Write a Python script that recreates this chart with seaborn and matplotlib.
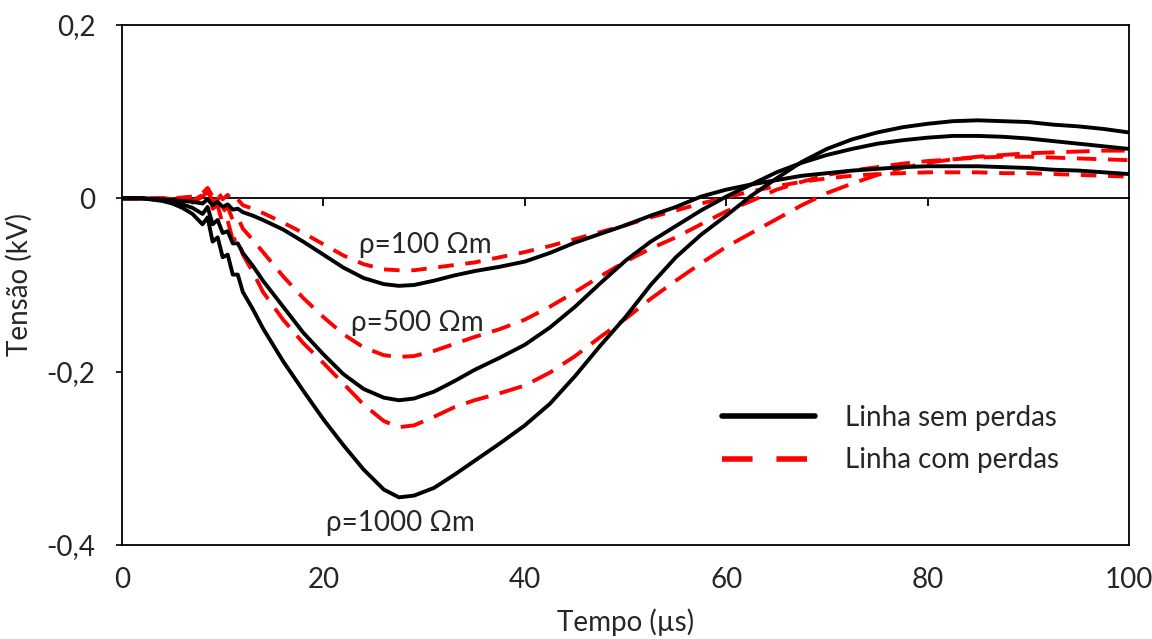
import pandas as pd
import matplotlib.pyplot as plt
import seaborn as sns
from matplotlib.lines import Line2D

# tempo (us) comum a todas as curvas
tempo = [0, 2, 4, 5, 6, 7, 8, 8.5, 9, 9.5, 10, 10.5, 11, 11.5, 12, 13, 14, 16, 18, 20,
         22, 24, 26, 27.5, 29, 31, 33, 35, 37.5, 40, 42.5, 45, 47.5, 50, 52.5, 55, 57.5,
         60, 62.5, 65, 67.5, 70, 72.5, 75, 77.5, 80, 82.5, 85, 87.5, 90, 92.5, 95, 97.5, 100]

# Linha sem perdas (kV)
sem_100 = [0, 0, -0.001, -0.002, -0.003, -0.004, -0.006, -0.001, -0.008, -0.004, -0.010, -0.007,
           -0.013, -0.012, -0.016, -0.020, -0.025, -0.036, -0.050, -0.065, -0.080, -0.092, -0.099,
           -0.101, -0.100, -0.095, -0.089, -0.084, -0.079, -0.073, -0.063, -0.051, -0.041, -0.031,
           -0.020, -0.010, 0.002, 0.010, 0.016, 0.021, 0.026, 0.029, 0.032, 0.034, 0.036, 0.037,
           0.037, 0.037, 0.036, 0.035, 0.033, 0.032, 0.030, 0.028]
sem_500 = [0, 0, -0.002, -0.004, -0.007, -0.011, -0.018, -0.010, -0.030, -0.025, -0.040, -0.038,
           -0.052, -0.052, -0.063, -0.078, -0.095, -0.125, -0.155, -0.180, -0.203, -0.220, -0.230,
           -0.233, -0.231, -0.223, -0.211, -0.198, -0.184, -0.169, -0.149, -0.125, -0.098, -0.072,
           -0.050, -0.032, -0.014, 0.002, 0.016, 0.030, 0.041, 0.050, 0.057, 0.063, 0.067, 0.070,
           0.072, 0.072, 0.071, 0.069, 0.066, 0.063, 0.060, 0.057]
sem_1000 = [0, 0, -0.003, -0.006, -0.011, -0.018, -0.030, -0.022, -0.050, -0.045, -0.068, -0.065,
            -0.088, -0.088, -0.108, -0.128, -0.150, -0.188, -0.222, -0.255, -0.285, -0.313, -0.336,
            -0.345, -0.343, -0.334, -0.319, -0.303, -0.283, -0.262, -0.237, -0.205, -0.170, -0.137,
            -0.100, -0.068, -0.042, -0.020, 0.003, 0.023, 0.042, 0.057, 0.068, 0.076, 0.082, 0.086,
            0.089, 0.090, 0.089, 0.088, 0.085, 0.083, 0.080, 0.076]

# Linha com perdas (kV)
com_100 = [0, 0, 0, 0, 0.001, 0.002, 0.006, 0.012, 0.002, 0.008, -0.001, 0.004, -0.004, -0.001,
           -0.008, -0.012, -0.017, -0.028, -0.040, -0.053, -0.066, -0.076, -0.082, -0.083, -0.083,
           -0.080, -0.077, -0.074, -0.068, -0.062, -0.055, -0.047, -0.039, -0.031, -0.022, -0.014,
           -0.006, 0.001, 0.008, 0.014, 0.019, 0.023, 0.026, 0.028, 0.029, 0.030, 0.030, 0.030,
           0.029, 0.029, 0.028, 0.027, 0.026, 0.025]
com_500 = [0, 0, 0, -0.001, -0.002, -0.003, 0.004, 0.010, -0.005, 0.000, -0.015, -0.010, -0.025,
           -0.022, -0.035, -0.048, -0.062, -0.090, -0.115, -0.137, -0.157, -0.172, -0.181, -0.183,
           -0.182, -0.176, -0.168, -0.160, -0.151, -0.140, -0.125, -0.108, -0.090, -0.073, -0.058,
           -0.045, -0.030, -0.015, -0.003, 0.010, 0.019, 0.027, 0.032, 0.036, 0.040, 0.043, 0.045,
           0.047, 0.048, 0.048, 0.047, 0.046, 0.045, 0.044]
com_1000 = [0, 0, 0, -0.001, -0.003, -0.005, 0.002, 0.008, -0.012, -0.008, -0.030, -0.026, -0.048,
            -0.046, -0.065, -0.085, -0.108, -0.140, -0.167, -0.190, -0.214, -0.238, -0.257, -0.264,
            -0.262, -0.252, -0.241, -0.233, -0.225, -0.216, -0.201, -0.182, -0.160, -0.139, -0.116,
            -0.095, -0.075, -0.056, -0.040, -0.024, -0.008, 0.006, 0.017, 0.027, 0.035, 0.041,
            0.045, 0.048, 0.050, 0.052, 0.053, 0.054, 0.055, 0.055]

rotulos = ['ρ=100 Ωm', 'ρ=500 Ωm', 'ρ=1000 Ωm']
yticks = [-0.4, -0.2, 0, 0.2]
ytick_labels = ['-0,4', '-0,2', '0', '0,2']
xticks = [0, 20, 40, 60, 80, 100]

df = pd.DataFrame({'t': tempo,
                   'sem_100': sem_100, 'sem_500': sem_500, 'sem_1000': sem_1000,
                   'com_100': com_100, 'com_500': com_500, 'com_1000': com_1000})

sns.set_style('white')
plt.rcParams['font.family'] = ['Lato', 'DejaVu Sans']
plt.rcParams['font.size'] = 20

fig = plt.figure(figsize=(11.52, 6.39), dpi=100)
ax = fig.add_axes([0.1059, 0.1471, 0.8741, 0.8138])

# linhas com perdas (tracejadas, atras)
tracos = {'com_100': (4, 3), 'com_500': (5, 3), 'com_1000': (6, 3)}
for col, d in tracos.items():
    sns.lineplot(data=df, x='t', y=col, ax=ax, color='#ff0000', linewidth=2.8,
                 linestyle=(0, d), legend=False)
for col in ['sem_100', 'sem_500', 'sem_1000']:
    sns.lineplot(data=df, x='t', y=col, ax=ax, color='black', linewidth=2.8, legend=False)

ax.set_xlim(0, 100)
ax.set_ylim(-0.4, 0.2)
ax.set_yticks(yticks)
ax.set_yticklabels(ytick_labels)
ax.set_xticks(xticks)
ax.set_xticklabels([str(v) for v in xticks])
ax.tick_params(axis='x', length=0, pad=16)
ax.tick_params(axis='y', direction='out', length=4, width=1.2, color='black', pad=15, left=True)
for s in ax.spines.values():
    s.set_color('black')
    s.set_linewidth(1.3)

# eixo horizontal no zero com marcas
sec = ax.secondary_xaxis(0.4 / 0.6)
sec.set_alignment('bottom')
sec.set_xticks(xticks[1:-1], labels=[''] * 4)
sec.tick_params(axis='x', direction='out', length=6, width=1.3, color='black')
sec.spines['bottom'].set_linewidth(1.3)
sec.spines['bottom'].set_color('black')

ax.set_xlabel('Tempo (µs)', labelpad=11)
ax.set_ylabel('Tensão (kV)', labelpad=10)

ax.text(30.1, -0.054, rotulos[0], ha='center', va='center')
ax.text(29.3, -0.144, rotulos[1], ha='center', va='center')
ax.text(27.6, -0.375, rotulos[2], ha='center', va='center')

handles = [Line2D([], [], color='black', linewidth=4),
           Line2D([], [], color='#ff0000', linewidth=4, linestyle=(0, (5.5, 4.3)))]
ax.legend(handles, ['Linha sem perdas', 'Linha com perdas'], frameon=False,
          loc='center left', bbox_to_anchor=(0.596, 0.204), borderaxespad=0, borderpad=0,
          handlelength=3.35, handletextpad=1.08, labelspacing=0.6)

fig.savefig('out.png', dpi=100)
